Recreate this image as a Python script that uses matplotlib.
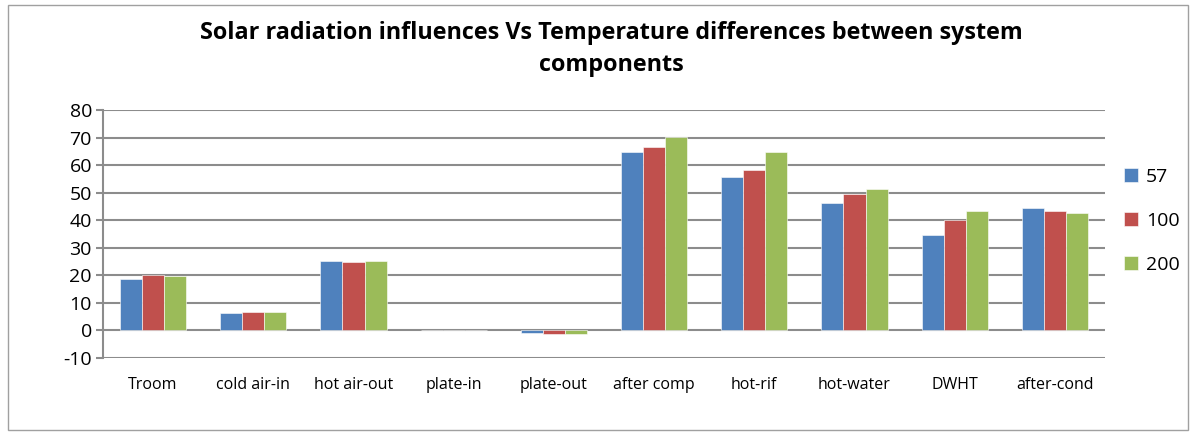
import numpy as np
import matplotlib
matplotlib.use('Agg')
import matplotlib.pyplot as plt
from matplotlib.patches import Rectangle
from matplotlib.ticker import FuncFormatter

categories = ['Troom', 'cold air-in', 'hot air-out', 'plate-in', 'plate-out',
              'after comp', 'hot-rif', 'hot-water', 'DWHT', 'after-cond']
s57 = [18.5, 6.4, 25.1, 0, -0.8, 64.6, 55.6, 46.4, 34.8, 44.6]
s100 = [20.0, 6.7, 25.0, 0, -1.2, 66.7, 58.4, 49.6, 40.0, 43.5]
s200 = [19.6, 6.8, 25.3, 0, -1.3, 70.3, 64.6, 51.4, 43.4, 42.8]
series_names = ['57', '100', '200']
colors = ['#4F81BD', '#C0504D', '#9BBB59']

plt.rcParams['font.family'] = ['Open Sans', 'DejaVu Sans']

fig = plt.figure(figsize=(11.98, 4.34), dpi=100)
ax = fig.add_axes([103 / 1198, 1 - 358 / 434, (1105 - 103) / 1198, (358 - 110) / 434])

# outer chart border
fig.patches.append(Rectangle((8 / 1198, 4 / 434), 1180 / 1198, 425 / 434,
                             transform=fig.transFigure, fill=False,
                             edgecolor='#A0A0A0', linewidth=1))

x = np.arange(len(categories))
w = 0.22
for i, (vals, name) in enumerate(zip([s57, s100, s200], series_names)):
    ax.bar(x + (i - 1) * w, vals, width=w, color=colors[i], label=name,
           edgecolor='white', linewidth=0.4, zorder=3)

ax.set_xlim(-0.5, len(categories) - 0.5)
ax.set_ylim(-10, 80)
ax.set_yticks(range(-10, 81, 10))
ax.yaxis.set_major_formatter(FuncFormatter(lambda v, p: '%d' % v))
ax.yaxis.grid(True, color='#8C8C8C', linewidth=1.5, zorder=0)
ax.set_axisbelow(True)
for sp in ['top', 'right', 'bottom']:
    ax.spines[sp].set_visible(False)
ax.spines['left'].set_color('#8C8C8C')
ax.spines['left'].set_linewidth(1.5)
ax.tick_params(axis='y', length=5, color='#8C8C8C', width=1.5, labelsize=14, pad=3)
ax.set_xticks(x)
ax.set_xticklabels(categories, fontsize=11.5)
ax.tick_params(axis='x', length=0, pad=14)

fig.text(611 / 1198, 1 - 49 / 434,
         'Solar radiation influences Vs Temperature differences between system\ncomponents',
         ha='center', va='center', fontsize=16.8, fontweight='bold', linespacing=1.4)

leg = fig.legend(loc='upper left', bbox_to_anchor=(1106 / 1198, 1 - 150 / 434),
                 frameon=False, fontsize=14, handlelength=0.75, handleheight=0.75,
                 labelspacing=1.35, handletextpad=0.4)

plt.savefig('out.png', dpi=100)
plt.close()
